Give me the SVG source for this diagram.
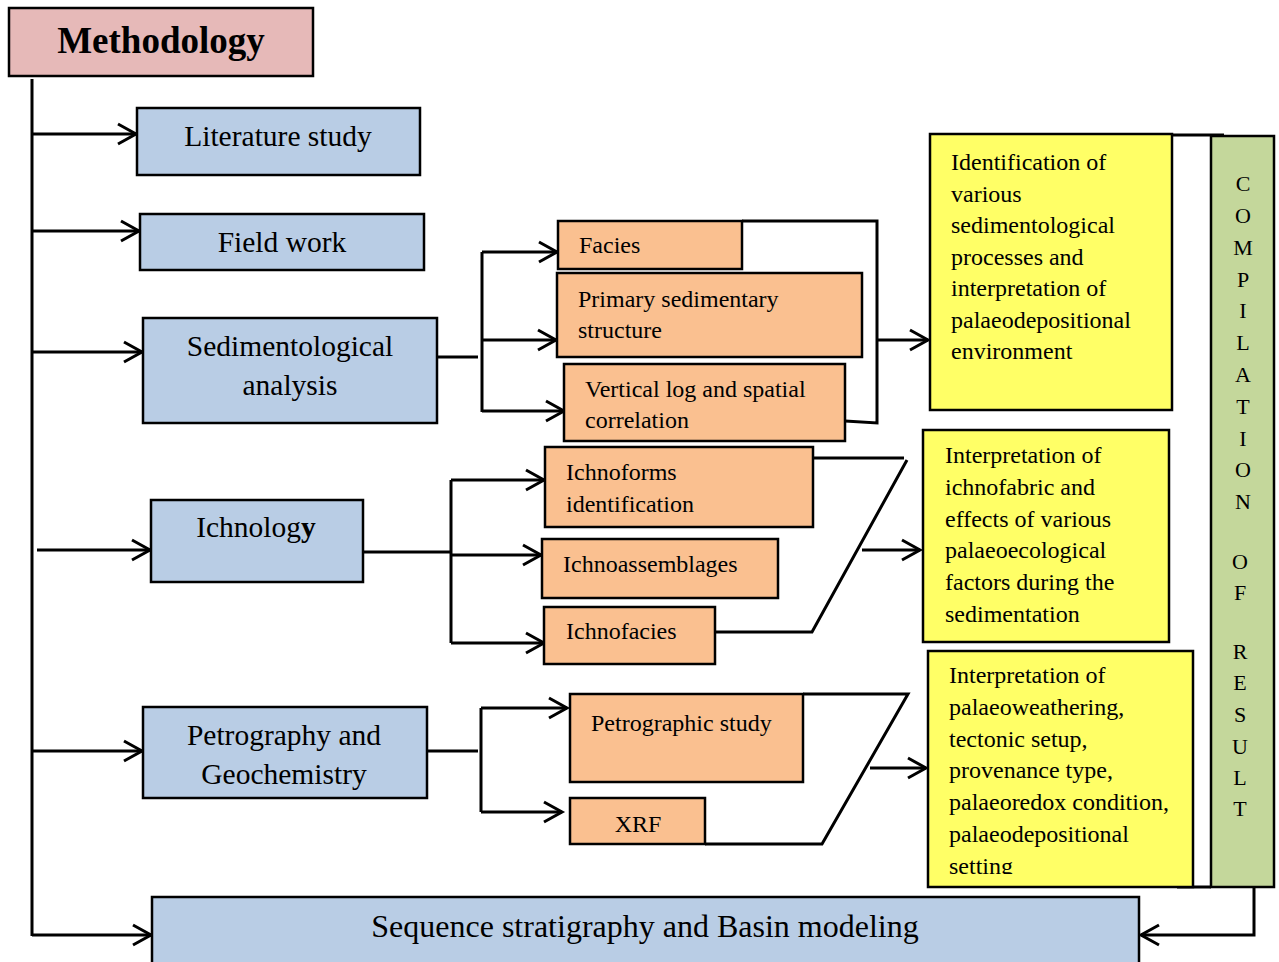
<svg xmlns="http://www.w3.org/2000/svg" width="1279" height="962" viewBox="0 0 1279 962">
<style>
text{font-family:"Liberation Serif","Times New Roman",serif;fill:#000}
.box{stroke:#000;stroke-width:2.5}
.blue{fill:#b9cde5}
.org{fill:#fac090}
.yel{fill:#ffff66}
.grn{fill:#c4d79b}
.pink{fill:#e6b9b8}
.ln{fill:none;stroke:#000;stroke-width:3}
.ar{marker-end:url(#chev)}
.bt{font-size:29.5px;text-anchor:middle}
.ot{font-size:24px}
.yt{font-size:24px}
.ct{font-size:22px;text-anchor:middle}
</style>
<defs>
<marker id="chev" markerUnits="userSpaceOnUse" markerWidth="26" markerHeight="26" refX="19" refY="11" orient="auto" overflow="visible">
<path d="M1,1 L19,11 L1,21" fill="none" stroke="#000" stroke-width="3"/>
</marker>
<clipPath id="clip3"><rect x="928" y="651" width="265" height="223"/></clipPath>
</defs>

<g id="connectors">
<line class="ln" x1="32" y1="79" x2="32" y2="936"/>
<line class="ln ar" x1="32" y1="134" x2="136" y2="134"/>
<line class="ln ar" x1="32" y1="231" x2="139" y2="231"/>
<line class="ln ar" x1="32" y1="352" x2="142" y2="352"/>
<line class="ln ar" x1="37" y1="550" x2="150" y2="550"/>
<line class="ln ar" x1="32" y1="751" x2="142" y2="751"/>
<line class="ln ar" x1="32" y1="935" x2="151" y2="935"/>
<!-- sedimentological -->
<line class="ln" x1="437" y1="357" x2="478" y2="357"/>
<line class="ln" x1="482" y1="252" x2="482" y2="412"/>
<line class="ln ar" x1="482" y1="252" x2="557" y2="252"/>
<line class="ln ar" x1="482" y1="340" x2="556" y2="340"/>
<line class="ln ar" x1="482" y1="411" x2="564" y2="411"/>
<polyline class="ln" points="742,221 877,221 877,423 845,421"/>
<line class="ln ar" x1="877" y1="340" x2="928" y2="340"/>
<!-- ichnology -->
<line class="ln" x1="363" y1="552" x2="451" y2="552"/>
<line class="ln" x1="451" y1="480" x2="451" y2="643"/>
<line class="ln ar" x1="451" y1="480" x2="544" y2="480"/>
<line class="ln ar" x1="451" y1="555" x2="541" y2="555"/>
<line class="ln ar" x1="451" y1="643" x2="544" y2="643"/>
<line class="ln" x1="813" y1="458" x2="904" y2="458"/>
<polyline class="ln" points="907,460 812,632 715,632"/>
<line class="ln ar" x1="862" y1="550" x2="920" y2="550"/>
<!-- petrography -->
<line class="ln" x1="427" y1="751" x2="478" y2="751"/>
<line class="ln" x1="481" y1="708" x2="481" y2="812"/>
<line class="ln ar" x1="481" y1="708" x2="567" y2="708"/>
<line class="ln ar" x1="481" y1="812" x2="562" y2="812"/>
<polyline class="ln" points="803,694 908,694 822,844 705,844"/>
<line class="ln ar" x1="870" y1="768" x2="926" y2="768"/>
<!-- compilation links -->
<line class="ln" x1="1128" y1="135" x2="1224" y2="135"/>
<line class="ln" x1="1177" y1="887" x2="1211" y2="887"/>
<polyline class="ln ar" points="1254,887 1254,935 1141,935"/>
</g>

<g id="methodology">
<rect class="box pink" x="9" y="8" width="304" height="68"/>
<text x="161" y="53" font-size="37" font-weight="bold" text-anchor="middle">Methodology</text>
</g>
<g id="literature">
<rect class="box blue" x="137" y="108" width="283" height="67"/>
<text class="bt" x="278" y="146">Literature study</text>
</g>
<g id="fieldwork">
<rect class="box blue" x="140" y="214" width="284" height="56"/>
<text class="bt" x="282" y="252">Field work</text>
</g>
<g id="sedimentological">
<rect class="box blue" x="143" y="318" width="294" height="105"/>
<text class="bt" x="290" y="356">Sedimentological</text>
<text class="bt" x="290" y="395">analysis</text>
</g>
<g id="ichnology">
<rect class="box blue" x="151" y="500" width="212" height="82"/>
<text class="bt" x="256" y="537">Ichnolog<tspan font-weight="bold">y</tspan></text>
</g>
<g id="petrography">
<rect class="box blue" x="143" y="707" width="284" height="91"/>
<text class="bt" x="284" y="745">Petrography and</text>
<text class="bt" x="284" y="784">Geochemistry</text>
</g>
<g id="sequence">
<rect class="box blue" x="152" y="897" width="987" height="72"/>
<text x="645" y="937" font-size="32" text-anchor="middle">Sequence stratigraphy and Basin modeling</text>
</g>

<g id="facies">
<rect class="box org" x="558" y="221" width="184" height="48"/>
<text class="ot" x="579" y="253">Facies</text>
</g>
<g id="primary">
<rect class="box org" x="557" y="273" width="305" height="84"/>
<text class="ot" x="578" y="307">Primary sedimentary</text>
<text class="ot" x="578" y="338">structure</text>
</g>
<g id="verticallog">
<rect class="box org" x="564" y="364" width="281" height="77"/>
<text class="ot" x="585" y="397">Vertical log and spatial</text>
<text class="ot" x="585" y="428">correlation</text>
</g>
<g id="ichnoforms">
<rect class="box org" x="545" y="447" width="268" height="80"/>
<text class="ot" x="566" y="480">Ichnoforms</text>
<text class="ot" x="566" y="512">identification</text>
</g>
<g id="ichnoassemblages">
<rect class="box org" x="542" y="539" width="236" height="59"/>
<text class="ot" x="563" y="572">Ichnoassemblages</text>
</g>
<g id="ichnofacies">
<rect class="box org" x="544" y="607" width="171" height="57"/>
<text class="ot" x="566" y="639">Ichnofacies</text>
</g>
<g id="petrographic">
<rect class="box org" x="570" y="694" width="233" height="88"/>
<text class="ot" x="591" y="731">Petrographic study</text>
</g>
<g id="xrf">
<rect class="box org" x="570" y="798" width="135" height="46"/>
<text class="ot" x="638" y="832" text-anchor="middle">XRF</text>
</g>

<g id="result1">
<rect class="box yel" x="930" y="134" width="242" height="276"/>
<text class="yt" x="951" y="170">Identification of</text>
<text class="yt" x="951" y="202">various</text>
<text class="yt" x="951" y="233">sedimentological</text>
<text class="yt" x="951" y="265">processes and</text>
<text class="yt" x="951" y="296">interpretation of</text>
<text class="yt" x="951" y="328">palaeodepositional</text>
<text class="yt" x="951" y="359">environment</text>
</g>
<g id="result2">
<rect class="box yel" x="923" y="430" width="246" height="212"/>
<text class="yt" x="945" y="463">Interpretation of</text>
<text class="yt" x="945" y="495">ichnofabric and</text>
<text class="yt" x="945" y="527">effects of various</text>
<text class="yt" x="945" y="558">palaeoecological</text>
<text class="yt" x="945" y="590">factors during the</text>
<text class="yt" x="945" y="622">sedimentation</text>
</g>
<g id="result3">
<rect class="box yel" x="928" y="651" width="265" height="236"/>
<g clip-path="url(#clip3)">
<text class="yt" x="949" y="683">Interpretation of</text>
<text class="yt" x="949" y="715">palaeoweathering,</text>
<text class="yt" x="949" y="747">tectonic setup,</text>
<text class="yt" x="949" y="778">provenance type,</text>
<text class="yt" x="949" y="810">palaeoredox condition,</text>
<text class="yt" x="949" y="842">palaeodepositional</text>
<text class="yt" x="949" y="874">setting</text>
</g>
</g>

<g id="compilation">
<rect class="box grn" x="1211" y="136" width="63" height="751"/>
<text class="ct" x="1243" y="191">C</text>
<text class="ct" x="1243" y="223">O</text>
<text class="ct" x="1243" y="255">M</text>
<text class="ct" x="1243" y="287">P</text>
<text class="ct" x="1243" y="318">I</text>
<text class="ct" x="1243" y="350">L</text>
<text class="ct" x="1243" y="382">A</text>
<text class="ct" x="1243" y="414">T</text>
<text class="ct" x="1243" y="446">I</text>
<text class="ct" x="1243" y="477">O</text>
<text class="ct" x="1243" y="509">N</text>
<text class="ct" x="1240" y="569">O</text>
<text class="ct" x="1240" y="600">F</text>
<text class="ct" x="1240" y="659">R</text>
<text class="ct" x="1240" y="690">E</text>
<text class="ct" x="1240" y="722">S</text>
<text class="ct" x="1240" y="754">U</text>
<text class="ct" x="1240" y="785">L</text>
<text class="ct" x="1240" y="816">T</text>
</g>
</svg>
